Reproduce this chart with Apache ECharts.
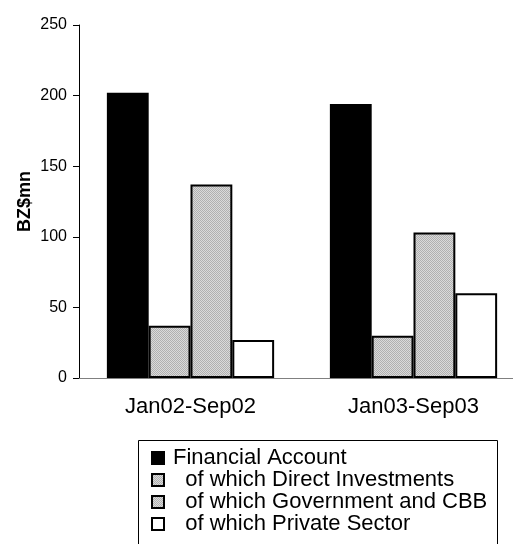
<!DOCTYPE html>
<html>
<head>
<meta charset="utf-8">
<script src="https://cdn.jsdelivr.net/npm/echarts@6/dist/echarts.min.js"></script>
<style>
html, body { margin: 0; padding: 0; background: #fff; }
#chart { width: 513px; height: 544px; }
</style>
</head>
<body>
<div id="chart"></div>
<script>
var periods = ["Jan02-Sep02", "Jan03-Sep03"];
var seriesNames = ["Financial Account", "  of which Direct Investments", "  of which Government and CBB", "  of which Private Sector"];
var financialAccount = [202, 194];
var directInvestments = [37, 30];
var governmentCBB = [137, 103];
var privateSector = [27, 60];

// fine grey hatch like the original
function hatch() {
    var c = document.createElement("canvas");
    c.width = 4; c.height = 4;
    var g = c.getContext("2d");
    g.fillStyle = "#dadada";
    g.fillRect(0, 0, 4, 4);
    g.fillStyle = "#b0b0b0";
    for (var i = 0; i < 4; i++) {
        g.fillRect(i, i, 1, 1);
        g.fillRect((i + 2) % 4, i, 1, 1);
    }
    return { image: c, repeat: "repeat" };
}

var chart = echarts.init(document.getElementById("chart"));
var font = "Liberation Sans, Arial, sans-serif";
function bar(name, data, fill) {
    return {
        name: name,
        type: "bar",
        data: data,
        barGap: "0%",
        barCategoryGap: "25%",
        itemStyle: { color: fill, borderColor: "#000", borderWidth: 2 },
        emphasis: { disabled: true }
    };
}
chart.setOption({
    animation: false,
    textStyle: { fontFamily: font },
    grid: { left: 79, top: 25, right: -12, bottom: 166, outerBoundsMode: "none" },
    xAxis: {
        type: "category",
        data: periods,
        axisLine: { lineStyle: { color: "#808080", width: 1 } },
        axisTick: { show: false },
        axisLabel: { color: "#000", fontSize: 22, margin: 18, fontFamily: font }
    },
    yAxis: {
        type: "value",
        min: 0, max: 250, interval: 50,
        name: "BZ$mn",
        nameLocation: "middle",
        nameGap: 45,
        nameMoveOverlap: false,
        nameTextStyle: { color: "#000", fontSize: 18, fontWeight: "bold", fontFamily: font },
        axisLine: { show: true, lineStyle: { color: "#000", width: 1 } },
        axisTick: { show: true, length: 6, lineStyle: { color: "#000" } },
        axisLabel: { color: "#000", fontSize: 16, margin: 12, fontFamily: font },
        splitLine: { show: false }
    },
    legend: {
        orient: "vertical",
        left: 138, top: 441,
        padding: [6, 5, 4, 13],
        itemGap: 0,
        itemWidth: 12, itemHeight: 12,
        icon: "rect",
        textStyle: { color: "#000", fontSize: 22, lineHeight: 22, fontFamily: font, padding: [0, 0, 0, 4] },
        data: seriesNames
    },
    graphic: [{
        type: "rect",
        shape: { x: 138.5, y: 440.5, width: 359, height: 120 },
        style: { fill: null, stroke: "#000", lineWidth: 1 },
        silent: true
    }],
    series: [
        bar(seriesNames[0], financialAccount, "#000"),
        bar(seriesNames[1], directInvestments, hatch()),
        bar(seriesNames[2], governmentCBB, hatch()),
        bar(seriesNames[3], privateSector, "#fff")
    ]
});
</script>
</body>
</html>
